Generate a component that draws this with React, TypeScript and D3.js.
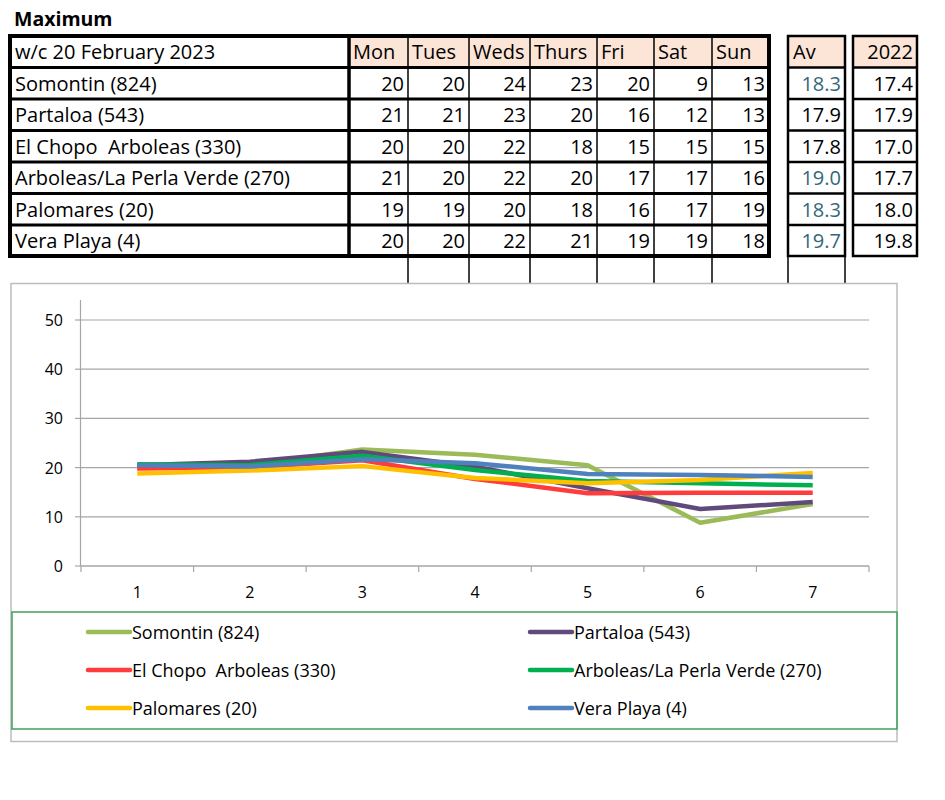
import React from "react";
import * as d3 from "d3";

const stations = [
  "Somontin (824)",
  "Partaloa (543)",
  "El Chopo  Arboleas (330)",
  "Arboleas/La Perla Verde (270)",
  "Palomares (20)",
  "Vera Playa (4)",
];
const dayLabels = ["Mon", "Tues", "Weds", "Thurs", "Fri", "Sat", "Sun"];
const weekTitle = "w/c 20 February 2023";
const tableTitle = "Maximum";

const tableSomontin = [20, 20, 24, 23, 20, 9, 13];
const tablePartaloa = [21, 21, 23, 20, 16, 12, 13];
const tableElChopo = [20, 20, 22, 18, 15, 15, 15];
const tableArboleas = [21, 20, 22, 20, 17, 17, 16];
const tablePalomares = [19, 19, 20, 18, 16, 17, 19];
const tableVera = [20, 20, 22, 21, 19, 19, 18];
const tableRows = [tableSomontin, tablePartaloa, tableElChopo, tableArboleas, tablePalomares, tableVera];

const averages = ["18.3", "17.9", "17.8", "19.0", "18.3", "19.7"];
const averageTeal = [true, false, false, true, true, true];
const prevYear = ["17.4", "17.9", "17.0", "17.7", "18.0", "19.8"];
const avHeader = "Av";
const prevHeader = "2022";

// chart series (unrounded values)
const lineSomontin = [20.0, 20.5, 23.7, 22.6, 20.5, 8.8, 12.6];
const linePartaloa = [20.5, 21.2, 23.2, 20.2, 15.8, 11.6, 13.0];
const lineElChopo = [19.8, 20.0, 21.5, 17.7, 14.8, 14.9, 14.9];
const lineArboleas = [20.7, 20.5, 22.4, 19.5, 17.3, 16.8, 16.4];
const linePalomares = [18.8, 19.4, 20.3, 17.9, 16.8, 17.5, 18.9];
const lineVera = [20.5, 20.2, 21.7, 20.9, 18.7, 18.5, 18.1];
const chartSeries = [lineSomontin, linePartaloa, lineElChopo, lineArboleas, linePalomares, lineVera];
const seriesColors = ["#9BBB59", "#604A7B", "#FF3B3B", "#00B050", "#FFC000", "#4F81BD"];
const xCategories = [1, 2, 3, 4, 5, 6, 7];
const yTicks = [0, 10, 20, 30, 40, 50];

const FONT = "'Open Sans', 'Noto Sans', sans-serif";
const PEACH = "#FCE4D6";
const TEAL = "#31697A";
const PRE = { whiteSpace: "pre" as const };

export default function App() {
  // table geometry
  const colEdges = [10, 349, 408, 469, 530, 597, 654, 712, 769];
  const rowEdges = [36, 67.5, 99, 130.5, 162, 193.5, 225, 256];
  const avBox = [788, 845];
  const prevBox = [853, 917];

  // chart geometry
  const plotLeft = 81, plotRight = 869, plotTop = 300, plotBottom = 566;
  const x = d3.scaleBand<number>().domain(xCategories).range([plotLeft, plotRight]);
  const y = d3.scaleLinear().domain([0, 50]).range([plotBottom, 320]);
  const line = d3
    .line<number>()
    .x((_, i) => (x(xCategories[i]) as number) + x.bandwidth() / 2)
    .y((d) => y(d));

  const rowMid = (r: number) => (rowEdges[r] + rowEdges[r + 1]) / 2 + 7.5;
  const FS = 20;

  return (
    <svg width={945} height={800} style={{ position: "absolute", left: 0, top: 0, background: "#fff" }} fontFamily={FONT}>
      <text x={14} y={26} fontSize={19.5} fontWeight="bold" fill="#000">{tableTitle}</text>

      {/* header backgrounds */}
      {dayLabels.map((d, i) => (
        <rect key={d} x={colEdges[i + 1]} y={rowEdges[0]} width={colEdges[i + 2] - colEdges[i + 1]} height={rowEdges[1] - rowEdges[0]} fill={PEACH} />
      ))}
      <rect x={avBox[0]} y={rowEdges[0]} width={avBox[1] - avBox[0]} height={rowEdges[1] - rowEdges[0]} fill={PEACH} />
      <rect x={prevBox[0]} y={rowEdges[0]} width={prevBox[1] - prevBox[0]} height={rowEdges[1] - rowEdges[0]} fill={PEACH} />

      {/* extension lines below table */}
      {[...colEdges.slice(2, 8), avBox[0], avBox[1]].map((cx, i) => (
        <line key={"ext" + i} x1={cx} x2={cx} y1={rowEdges[7]} y2={284} stroke="#000" strokeWidth={1.5} />
      ))}

      {/* inner vertical thin lines */}
      {colEdges.slice(2, 8).map((cx, i) => (
        <line key={"v" + i} x1={cx} x2={cx} y1={rowEdges[0]} y2={rowEdges[7]} stroke="#000" strokeWidth={1.5} />
      ))}
      <line x1={colEdges[1]} x2={colEdges[1]} y1={rowEdges[0]} y2={rowEdges[7]} stroke="#000" strokeWidth={3.5} />
      {rowEdges.slice(1, 7).map((ry, i) => (
        <line key={"h" + i} x1={colEdges[0]} x2={colEdges[8]} y1={ry} y2={ry} stroke="#000" strokeWidth={3} />
      ))}
      <rect x={colEdges[0]} y={rowEdges[0]} width={colEdges[8] - colEdges[0]} height={rowEdges[7] - rowEdges[0]} fill="none" stroke="#000" strokeWidth={4} />

      {/* Av and 2022 boxes */}
      {[avBox, prevBox].map((b, k) => (
        <g key={"box" + k}>
          {rowEdges.slice(1, 7).map((ry, i) => (
            <line key={i} x1={b[0]} x2={b[1]} y1={ry} y2={ry} stroke="#000" strokeWidth={2.5} />
          ))}
          <rect x={b[0]} y={rowEdges[0]} width={b[1] - b[0]} height={rowEdges[7] - rowEdges[0]} fill="none" stroke="#000" strokeWidth={2.5} />
        </g>
      ))}

      {/* header text */}
      <text x={15} y={rowMid(0)} fontSize={FS}>{weekTitle}</text>
      {dayLabels.map((d, i) => (
        <text key={"dh" + d} x={colEdges[i + 1] + 4} y={rowMid(0)} fontSize={FS}>{d}</text>
      ))}
      <text x={avBox[0] + 5} y={rowMid(0)} fontSize={FS}>{avHeader}</text>
      <text x={prevBox[1] - 4} y={rowMid(0)} fontSize={FS} textAnchor="end">{prevHeader}</text>

      {/* rows */}
      {stations.map((s, r) => (
        <g key={s}>
          <text x={15} y={rowMid(r + 1)} fontSize={FS} style={PRE}>{s}</text>
          {tableRows[r].map((v, i) => (
            <text key={i} x={colEdges[i + 2] - 4} y={rowMid(r + 1)} fontSize={FS} textAnchor="end">{v}</text>
          ))}
          <text x={avBox[1] - 4} y={rowMid(r + 1)} fontSize={FS} textAnchor="end" fill={averageTeal[r] ? TEAL : "#000"}>{averages[r]}</text>
          <text x={prevBox[1] - 4} y={rowMid(r + 1)} fontSize={FS} textAnchor="end">{prevYear[r]}</text>
        </g>
      ))}

      {/* chart frame */}
      <rect x={11} y={283.5} width={886} height={458} fill="#fff" stroke="#BDBDBD" strokeWidth={1.5} />

      {/* gridlines */}
      {yTicks.slice(1).map((t) => (
        <line key={"g" + t} x1={plotLeft} x2={plotRight} y1={y(t)} y2={y(t)} stroke="#A6A6A6" strokeWidth={1.2} />
      ))}
      {/* y axis */}
      <line x1={plotLeft - 0.5} x2={plotLeft - 0.5} y1={plotTop} y2={plotBottom} stroke="#A6A6A6" strokeWidth={1.2} />
      {yTicks.map((t) => (
        <g key={"yt" + t}>
          <line x1={plotLeft - 6} x2={plotLeft} y1={y(t)} y2={y(t)} stroke="#A6A6A6" strokeWidth={1.2} />
          <text x={plotLeft - 18} y={y(t) + 6} fontSize={16} textAnchor="end">{t}</text>
        </g>
      ))}
      {/* x axis */}
      <line x1={plotLeft} x2={plotRight} y1={plotBottom} y2={plotBottom} stroke="#A6A6A6" strokeWidth={1.5} />
      {[...xCategories.map((c) => x(c) as number), plotRight].map((tx, i) => (
        <line key={"xt" + i} x1={tx} x2={tx} y1={plotBottom} y2={plotBottom + 6} stroke="#A6A6A6" strokeWidth={1.2} />
      ))}
      {xCategories.map((c) => (
        <text key={"xl" + c} x={(x(c) as number) + x.bandwidth() / 2} y={598} fontSize={16} textAnchor="middle">{c}</text>
      ))}

      {/* series */}
      {chartSeries.map((s, i) => (
        <path key={"s" + i} d={line(s) as string} fill="none" stroke={seriesColors[i]} strokeWidth={4.5} strokeLinejoin="round" />
      ))}

      {/* legend */}
      <rect x={12} y={612} width={885} height={117} fill="none" stroke="#3DA35D" strokeWidth={1.5} />
      {stations.map((s, i) => {
        const col = i % 2;
        const row = Math.floor(i / 2);
        const lx = col === 0 ? 88 : 530;
        const ly = 632 + row * 38;
        return (
          <g key={"lg" + i}>
            <line x1={lx} x2={lx + 42} y1={ly} y2={ly} stroke={seriesColors[i]} strokeWidth={4.5} strokeLinecap="round" />
            <text x={lx + 44} y={ly + 6.5} fontSize={18} style={PRE}>{s}</text>
          </g>
        );
      })}
    </svg>
  );
}
